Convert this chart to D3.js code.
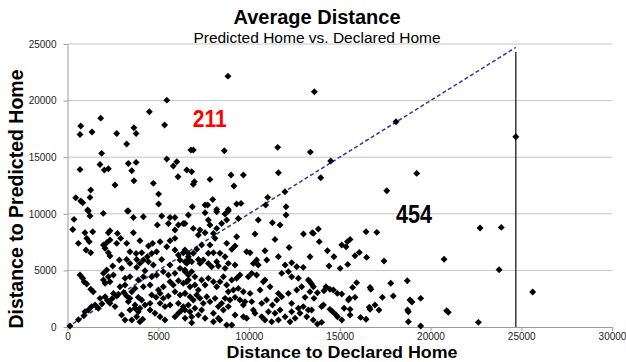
<!DOCTYPE html>
<html>
<head>
<meta charset="utf-8">
<script src="https://cdn.jsdelivr.net/npm/d3@7"></script>
<style>
  body { margin: 0; background: #fff; }
  svg { display: block; font-family: Arial, "Liberation Sans", sans-serif; }
</style>
</head>
<body>
<svg id="chart" width="626" height="362"></svg>
<script>
const xTicks = [0, 5000, 10000, 15000, 20000, 25000, 30000];
const yTicks = [0, 5000, 10000, 15000, 20000, 25000];

// [declared, predicted] distances
const ptsNear = [
  [5470,20040],[4510,19010],[1830,18450],[730,17750],[690,17010],[1350,17220],[2710,17100],[3660,17600],
  [3780,17100],[5350,17840],[3260,16160],[1880,15340],[5470,14840],[6020,14600],[5830,14220],[690,13920],
  [1790,14360],[2030,13870],[2250,13980],[3350,14450],[3780,14540],[3540,13800],[3660,12920],[6090,13270],
  [4730,12690],[2620,12540],[1280,12100],[1240,11450],[450,11420],[730,11130],[840,10980],[5020,11740],
  [5020,10860],[1110,10330],[3300,10240],
  [1150,10240],[1970,10040],[3350,10240],[1240,9800],[360,9510],[3630,9680],[4180,9740],[5190,9800],
  [5650,9680],[5920,9680],[6110,9010],[6380,9150],[5560,9150],[290,8620],[960,8330],[1390,8420],
  [2340,8510],[2250,8330],[2750,8270],[3630,8330],[4950,9010],[5920,8570],[600,7390],[1060,7830],
  [1200,7540],[1980,7240],[2160,7450],[2340,7680],[2710,7390],[2930,7830],[3260,7390],[3990,7620],
  [4460,7150],[4690,7390],[5100,7530],[5470,7090],[5650,7620],[5920,7830],[1020,6800],[1280,6560],
  [2070,6950],[2250,6560],[2340,6270],[3440,6650],[3780,6500],[4090,6560],[4400,6210],[4640,6500],
  [4910,6650],[5920,6800],[6110,6360],[6380,6560],[6660,6500],[2860,5920],[3260,5970],[3440,5620],
  [3810,5970],[3990,5620],[4180,5920],[4460,5770],[4730,5480],[5190,5970],[5650,5480],[6200,5920],
  [6480,5770],[6660,5970],[2490,5390],[2160,5030],[2990,5180],[3810,5270],[4270,4970],[690,4590],
  [840,4300],[910,4000],[1060,3800],[1420,3120],[1280,3330],[1980,4740],[2250,4440],[2530,4590],
  [1980,4150],[2340,4000],[2070,3860],[3170,4300],[3440,4440],[3900,4150],[4180,4440],[4640,4440],
  [4910,4590],[5280,4890],[5560,4590],[5920,4740],[6200,5180],[6480,4890],[2890,3560],[3170,3710],
  [3540,3120],[3720,3410],[4180,3560],[4550,3710],[5010,3270],[5280,3560],[5650,4000],[5830,3710],
  [6110,4090],[6380,3860],[6660,4150],[1790,2530],[2070,2680],[2530,2970],[2710,2740],[3260,2740],
  [3440,2530],[3900,2620],[4090,2380],[4640,2830],[4880,2620],[5100,2970],[5280,2530],[5560,2740],
  [5920,3120],[6200,2830],[6480,2970],[1330,1800],[1520,1940],[1150,1500],[960,1350],[2340,2090],
  [2620,1800],[3350,2240],[3720,1940],[4270,1940],[4550,2090],[5100,2090],[5370,1800],[5650,1940],
  [6110,2090],[6380,1800],[2980,1060],[3440,1500],[3720,1650],[3900,1350],[3990,1650],[3170,620],
  [3540,620],[3810,910],[3990,470],[4140,680],[4550,1500],[4820,1210],[5100,910],[5370,620],
  [5920,910],[6110,1210],[6300,1500],[6480,770],[140,90],
  [600,650],[900,1000],[1700,1650],[1900,2050],[2200,2350],[2450,2500],[2800,2900],[3100,3050]
];

const ptsMid = [
  [8840,22160],[6800,15630],[6930,15630],[8640,15570],[11580,15870],[6570,13870],[6840,13720],[6990,12830],
  [6930,12600],[7850,13040],[9010,13420],[9690,13420],[9170,12450],[11620,13630],[11980,11950],[8000,11270],
  [7580,10770],[7720,10770],[6880,10620],[8220,10390],[8860,10390],[9320,10860],[9560,10920],[11030,11450],
  [10920,10770],[12040,10620],
  [7580,10090],[8220,10180],[8680,9980],[8860,10240],[6660,9890],[6470,9150],[7760,9450],[7850,9010],
  [6930,8710],[7300,8570],[7580,8330],[7210,8120],[8220,8710],[8040,8270],[8130,7830],[8490,9150],
  [8770,9450],[9410,9590],[10510,9450],[11290,9210],[11710,9010],[12040,9890],[13000,8210],[13490,8330],
  [9320,7980],[10330,8210],[11430,7740],[12210,7030],[8770,7390],[9230,7150],[9050,6860],[9870,6650],
  [10060,6560],[10880,6740],[11620,6210],[13360,6210],[7390,7240],[7120,6860],[6930,6510],[7850,7240],
  [7760,6510],[8040,6560],[8400,6510],[8680,6210],[6470,6800],[6660,6210],[6840,5770],[6570,5620],
  [7210,5970],[7480,5920],[7300,5620],[7760,5620],[7940,5330],[8220,5770],[8310,5390],[8860,5620],
  [8680,5180],[9230,5470],[10420,5920],[10240,5620],[10510,5470],[10980,5920],[10150,4740],[10420,4590],
  [10880,4150],[10790,4000],[11990,5470],[12350,5680],[12630,5330],[12990,5270],[11800,4740],[12170,4890],
  [12350,4440],[12720,4300],[13270,4150],[13450,3800],
  [6470,5030],[6660,4590],[6840,4890],[7020,4440],[6570,4000],[6750,3560],[7020,3710],[7210,3270],
  [7390,4150],[7580,3710],[7760,4300],[8040,4000],[8220,3560],[8400,4000],[8590,4440],[8770,3710],
  [9050,4150],[9320,4300],[9500,4590],[8860,3120],[9140,3270],[9410,3410],[9690,3120],[9960,4440],
  [6470,2970],[6750,2680],[6930,2380],[6660,1940],[7120,2830],[7300,2530],[7480,2090],[7670,2680],
  [7850,2240],[8130,2530],[8310,1800],[8490,2090],[8680,2530],[8950,2380],[9230,2620],[9500,2380],
  [9690,1940],[6470,1500],[6750,1350],[7020,1650],[6840,910],[7210,1060],[7390,1500],[7580,770],
  [8040,1210],[8310,770],[8590,1500],[8860,1800],[9230,1060],[9690,910],[9870,770],[10150,2240],
  [10330,1210],[8040,470],[8400,620],[8770,180],[9050,180],[6840,380],
  [10970,2380],[11290,1940],[11530,2380],[11070,1350],[11430,1210],[11710,1500],[11990,910],[12260,470],
  [12540,770],[12810,1210],[12990,1800],[13270,1500],[13540,620],[10880,620],[11250,470],[11800,2680],
  [12170,2970],[12630,3270],[12900,3560],[10700,2090],[10610,3270],[10060,2970],[10240,1500],[9780,2240],
  [11160,3560],[11620,2970],[12350,2090],[12720,1650],[13090,2620],[13360,3120],[10700,910],[11620,620],
  [12350,1350],[13180,910]
];

const ptsFar = [
  [13600,20780],[13380,15450],[14500,14660],[18100,18130],[13950,13190],[19240,13570],[17590,12040],
  [24700,16800],[22730,8740],[23900,8800],[20750,5980],[23780,5060],[25630,3090],[20890,1440],
  [20980,1300],[22640,410],
  [13550,8270],[13820,8650],[13870,7540],[14320,6740],[14680,6210],[15110,7240],[15350,7090],[15420,7540],
  [15570,7740],[15840,6300],[16080,6590],[16480,6150],[16450,8420],[17040,8360],[17440,5830],[14410,5390],
  [15020,5180],[15440,5530],[13360,4000],[13550,3560],[13770,3030],[13580,2530],[13450,1500],[14130,3210],
  [14240,3560],[14460,3330],[14650,3270],[14870,2970],[15110,2910],[14100,1940],[14000,1800],[14460,1560],
  [14610,1350],[14800,1060],[14870,910],[15110,620],[13770,270],[14000,410],[15240,1650],[15530,2530],
  [15480,2380],[15570,1560],[15570,1060],[15840,2620],[15710,3500],[15930,3920],[16150,850],[16450,680],
  [16630,1740],[16670,1560],[16670,3500],[16710,3330],[16940,1940],[17160,1500],[17350,2620],[17810,3860],
  [17950,2740],[18720,4090],[18870,2380],[18980,2210],[19460,2530],[18740,1500],[18780,1350],[18780,470],
  [19460,90]
];

const counts = [
  { label: '211', at: [6900, 17700], size: 23, len: 34, color: '#ff0000' },
  { label: '454', at: [18100, 9190], size: 25, len: 36, color: '#000000' }
];
const diagonalEnd = 24700;
const markerX = 24700, markerTop = 24300;

const svg = d3.select('#chart');
const margin = { top: 44, right: 14, bottom: 35, left: 67.5 };
const width = 626 - margin.left - margin.right;
const height = 362 - margin.top - margin.bottom;

const x = d3.scaleLinear().domain([0, 30000]).range([margin.left, margin.left + width]);
const y = d3.scaleLinear().domain([0, 25000]).range([margin.top + height, margin.top]);

// gridlines
svg.append('g')
  .selectAll('line')
  .data(yTicks.filter(d => d > 0))
  .enter()
  .append('line')
  .attr('x1', x(0)).attr('x2', x(30000))
  .attr('y1', d => y(d)).attr('y2', d => y(d))
  .attr('stroke', '#c4c4c4')
  .attr('stroke-width', 1);

// axes
const xAxis = svg.append('g')
  .attr('transform', 'translate(0,' + y(0) + ')')
  .call(d3.axisBottom(x).tickValues(xTicks).tickFormat(d3.format('d')).tickSize(4).tickSizeOuter(0));
const yAxis = svg.append('g')
  .attr('transform', 'translate(' + x(0) + ',0)')
  .call(d3.axisLeft(y).tickValues(yTicks).tickFormat(d3.format('d')).tickSize(4).tickSizeOuter(0));

[xAxis, yAxis].forEach(ax => {
  ax.select('.domain').attr('stroke', '#9a9a9a');
  ax.selectAll('.tick line').attr('stroke', '#9a9a9a');
  ax.selectAll('.tick text')
    .attr('fill', '#222')
    .style('font-size', '10px')
    .style('font-family', 'Arial, "Liberation Sans", sans-serif');
});
xAxis.selectAll('.tick text').attr('y', 13).attr('dy', 0);
yAxis.selectAll('.tick text').attr('x', -11);

// reference lines
svg.append('line')
  .attr('x1', x(0)).attr('y1', y(0))
  .attr('x2', x(diagonalEnd)).attr('y2', y(diagonalEnd))
  .attr('stroke', '#33339a')
  .attr('stroke-width', 1.5)
  .attr('stroke-dasharray', '4,2.5');

svg.append('line')
  .attr('x1', x(markerX)).attr('y1', y(0))
  .attr('x2', x(markerX)).attr('y2', y(markerTop))
  .attr('stroke', '#2a2a2a')
  .attr('stroke-width', 1.4);

// points
const diamond = d3.symbol().type(d3.symbolSquare).size(24);
svg.append('g')
  .selectAll('path')
  .data(ptsNear.concat(ptsMid, ptsFar))
  .enter()
  .append('path')
  .attr('d', diamond)
  .attr('transform', d => 'translate(' + x(d[0]) + ',' + y(d[1]) + ') rotate(45)')
  .attr('fill', '#000');

// counts
svg.append('g')
  .selectAll('text')
  .data(counts)
  .enter()
  .append('text')
  .attr('x', d => x(d.at[0]))
  .attr('y', d => y(d.at[1]))
  .attr('fill', d => d.color)
  .attr('textLength', d => d.len)
  .attr('lengthAdjust', 'spacingAndGlyphs')
  .style('font-size', d => d.size + 'px')
  .style('font-weight', 'bold')
  .text(d => d.label);

// titles
svg.append('text')
  .attr('x', 317).attr('y', 24)
  .attr('text-anchor', 'middle')
  .style('font-size', '20px').style('font-weight', 'bold')
  .text('Average Distance');
svg.append('text')
  .attr('x', 317).attr('y', 42.5)
  .attr('text-anchor', 'middle')
  .style('font-size', '15.5px')
  .text('Predicted Home vs. Declared Home');

svg.append('text')
  .attr('x', 342).attr('y', 358)
  .attr('text-anchor', 'middle')
  .attr('textLength', 231)
  .attr('lengthAdjust', 'spacingAndGlyphs')
  .style('font-size', '17px').style('font-weight', 'bold')
  .text('Distance to Declared Home');
svg.append('text')
  .attr('transform', 'translate(23,199) rotate(-90)')
  .attr('text-anchor', 'middle')
  .style('font-size', '19.5px').style('font-weight', 'bold')
  .text('Distance to Predicted Home');
</script>
</body>
</html>
